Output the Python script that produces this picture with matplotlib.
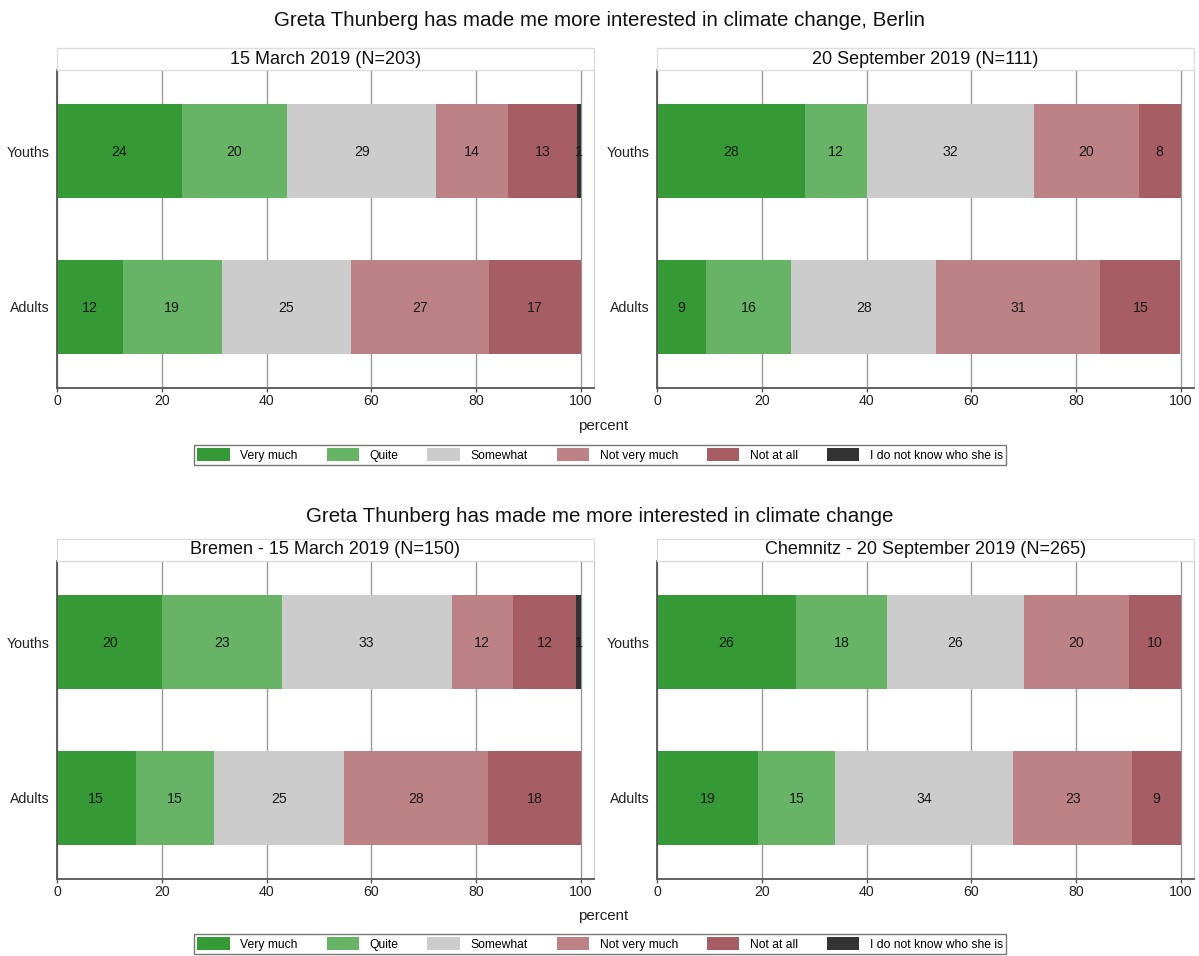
import matplotlib
matplotlib.use("Agg")
import matplotlib.pyplot as plt
from matplotlib.patches import Rectangle, Patch

plt.rcParams['font.family'] = ['Liberation Sans', 'DejaVu Sans']

categories = ["Very much", "Quite", "Somewhat", "Not very much", "Not at all", "I do not know who she is"]
colors = ["#359a35", "#67b467", "#cccccc", "#bd8286", "#a65d63", "#333333"]
groups = ["Youths", "Adults"]

title_top = "Greta Thunberg has made me more interested in climate change, Berlin"
title_bottom = "Greta Thunberg has made me more interested in climate change"
panel_titles = ["15 March 2019 (N=203)", "20 September 2019 (N=111)",
                "Bremen - 15 March 2019 (N=150)", "Chemnitz - 20 September 2019 (N=265)"]

# bar widths (percent)
berlin_mar_youths = [23.8, 20.1, 28.5, 13.7, 13.1, 0.8]
berlin_mar_adults = [12.6, 18.8, 24.7, 26.4, 17.5, 0.0]
berlin_sep_youths = [28.2, 11.9, 31.9, 19.9, 8.1, 0.0]
berlin_sep_adults = [9.4, 16.2, 27.7, 31.3, 15.3, 0.0]
bremen_youths = [20.1, 22.8, 32.4, 11.7, 12.0, 1.0]
bremen_adults = [15.0, 15.0, 24.8, 27.4, 17.8, 0.0]
chemnitz_youths = [26.5, 17.4, 26.1, 20.1, 9.9, 0.0]
chemnitz_adults = [19.3, 14.6, 34.1, 22.7, 9.3, 0.0]

# printed labels
berlin_mar_youths_lbl = ["24", "20", "29", "14", "13", "1"]
berlin_mar_adults_lbl = ["12", "19", "25", "27", "17", ""]
berlin_sep_youths_lbl = ["28", "12", "32", "20", "8", ""]
berlin_sep_adults_lbl = ["9", "16", "28", "31", "15", ""]
bremen_youths_lbl = ["20", "23", "33", "12", "12", "1"]
bremen_adults_lbl = ["15", "15", "25", "28", "18", ""]
chemnitz_youths_lbl = ["26", "18", "26", "20", "10", ""]
chemnitz_adults_lbl = ["19", "15", "34", "23", "9", ""]

xticks = [0, 20, 40, 60, 80, 100]

W, H = 1199, 956
fig = plt.figure(figsize=(W / 100, H / 100), dpi=100)


def fx(px):
    return px / W


def fy(py):
    return 1 - py / H


panels = [
    (57, 70, 388, berlin_mar_youths, berlin_mar_adults, berlin_mar_youths_lbl, berlin_mar_adults_lbl, panel_titles[0]),
    (657, 70, 388, berlin_sep_youths, berlin_sep_adults, berlin_sep_youths_lbl, berlin_sep_adults_lbl, panel_titles[1]),
    (57, 561, 879, bremen_youths, bremen_adults, bremen_youths_lbl, bremen_adults_lbl, panel_titles[2]),
    (657, 561, 879, chemnitz_youths, chemnitz_adults, chemnitz_youths_lbl, chemnitz_adults_lbl, panel_titles[3]),
]

pw = 537
for (x0, ytop, ybot, yv, av, yl, al, ptitle) in panels:
    ax = fig.add_axes([fx(x0), fy(ybot), pw / W, (ybot - ytop) / H])
    ax.set_xlim(0, 100 * pw / 524)
    ax.set_ylim(-0.52, 1.52)
    ax.set_axisbelow(True)
    ax.set_xticks(xticks)
    ax.grid(axis='x', color='#9a9a9a', linewidth=1.0)
    ax.set_yticks([1, 0])
    ax.set_yticklabels(groups, fontsize=10.2, color='#222222')
    ax.tick_params(axis='y', length=0, pad=5)
    ax.tick_params(axis='x', length=3, width=1, color='#555555', labelsize=10.2, labelcolor='#222222', pad=1)
    for sp in ['left', 'bottom']:
        ax.spines[sp].set_color('#555555')
        ax.spines[sp].set_linewidth(1.3)
    ax.spines['right'].set_color('#cccccc')
    ax.spines['top'].set_color('#dddddd')
    for ypos, vals, lbls in [(1, yv, yl), (0, av, al)]:
        left = 0.0
        for v, c, lb in zip(vals, colors, lbls):
            if v > 0:
                ax.barh(ypos, v, left=left, height=0.6, color=c, edgecolor='none')
                if lb:
                    ax.text(left + v / 2, ypos - 0.008, lb, ha='center', va='center', fontsize=10.2, color='#1a1a1a')
            left += v
    # header strip
    fig.patches.append(Rectangle((fx(x0), fy(ytop)), pw / W, 22 / H, transform=fig.transFigure,
                                 facecolor='white', edgecolor='#dddddd', linewidth=1.0))
    fig.text(fx(x0 + pw / 2), fy(ytop - 11), ptitle, ha='center', va='center', fontsize=13, color='#111111')

fig.text(0.5, fy(21), title_top, ha='center', va='center', fontsize=14.8, color='#111111')
fig.text(0.5, fy(517), title_bottom, ha='center', va='center', fontsize=14.8, color='#111111')
fig.text(fx(603), fy(426), "percent", ha='center', va='center', fontsize=10.9, color='#222222')
fig.text(fx(603), fy(916), "percent", ha='center', va='center', fontsize=10.9, color='#222222')

handles = [Patch(facecolor=c, edgecolor='none', label=l) for c, l in zip(colors, categories)]
for ly in [455, 944]:
    leg = fig.legend(handles=handles, ncol=6, loc='center', bbox_to_anchor=(fx(600), fy(ly)),
                     fontsize=8.7, frameon=True, fancybox=False, edgecolor='#555555',
                     handlelength=2.7, handleheight=1.3, columnspacing=2.4, handletextpad=0.85,
                     borderpad=0.3, borderaxespad=0)
    leg.get_frame().set_linewidth(1.0)

fig.savefig("out.png", dpi=100)
